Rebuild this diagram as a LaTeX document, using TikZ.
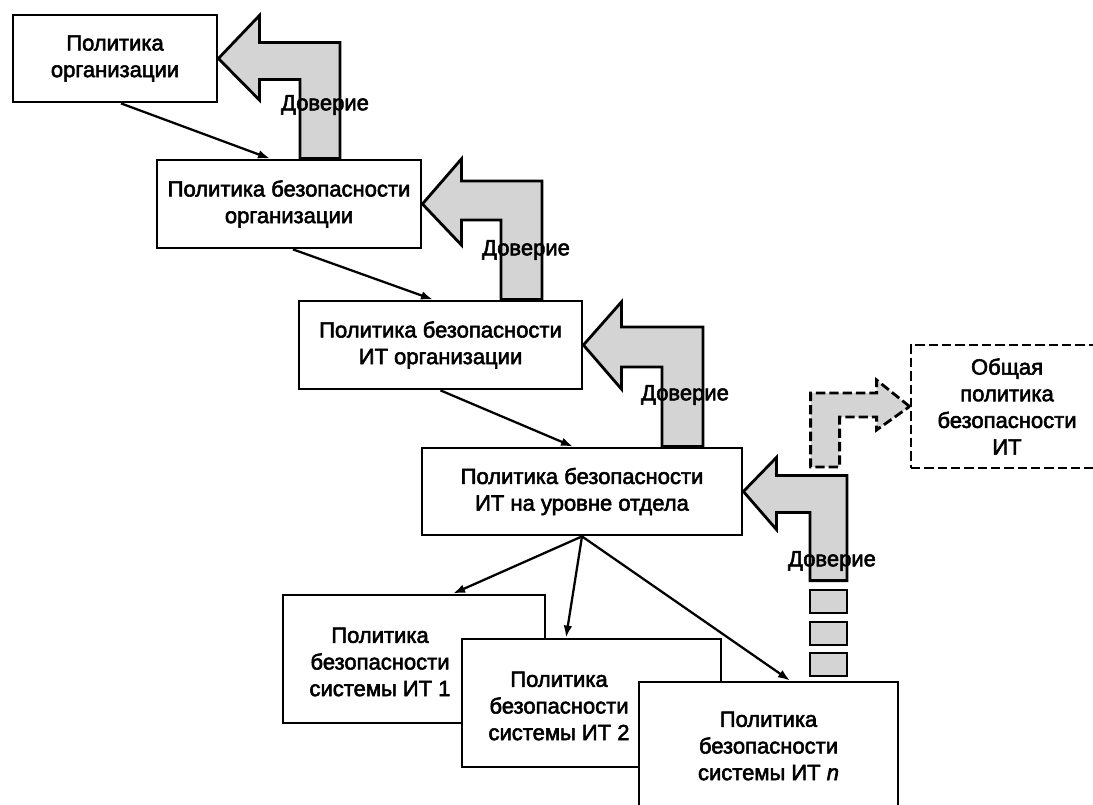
\documentclass[tikz,border=0pt]{standalone}
\usepackage{fontspec}
\setmainfont{Liberation Sans}
\newfontfamily\dfont{Liberation Sans}[FakeBold=2.5]
\usetikzlibrary{calc,arrows.meta}
\definecolor{trustgray}{RGB}{212,212,212}
\begin{document}
\begin{tikzpicture}[x=0.75pt,y=-0.75pt,
  box/.style={draw,line width=2.1pt,fill=white,align=center,inner sep=2pt,
    font=\dfont\fontsize{16.5}{20}\selectfont},
  txt/.style={align=center,inner sep=0pt,font=\dfont\fontsize{16.5}{20}\selectfont},
  dbox/.style={box,dash pattern=on 7pt off 3pt},
  conn/.style={line width=1.7pt,-{Latex[length=9pt,width=6.5pt]}},
  trust/.style={draw,line width=2.1pt,fill=trustgray,line join=miter},
  trustd/.style={trust,dash pattern=on 7pt off 3pt},
  lbl/.style={font=\dfont\fontsize{16.5}{20}\selectfont,inner sep=0pt}]
\clip (0,0) rectangle (1093,805);
\fill[white] (0,0) rectangle (1093,805);

% boxes
\node[box,minimum width=153pt,minimum height=65.25pt] (b1) at (115,58.5) {Политика\\организации};
\node[box,minimum width=198pt,minimum height=66pt] (b2) at (289,204) {Политика безопасности\\организации};
\node[box,minimum width=212.25pt,minimum height=66pt] (b3) at (440.5,345) {Политика безопасности\\ИТ организации};
\node[box,minimum width=240pt,minimum height=65.25pt] (b4) at (582,491.5) {Политика безопасности\\ИТ на уровне отдела};
\node[dbox,minimum width=144pt,minimum height=92.25pt] (bd) at (1007,406.5) {Общая\\политика\\безопасности\\ИТ};
\node[box,minimum width=196.5pt,minimum height=96pt] (b5) at (414,659) {};
\node[txt] (b5t) at ($(b5.center)+(-34,3)$) {Политика\\безопасности\\системы ИТ 1};
\node[box,minimum width=194.25pt,minimum height=96pt] (b6) at (591.5,703) {};
\node[txt] (b6t) at ($(b6.center)+(-32.5,3)$) {Политика\\безопасности\\системы ИТ 2};
\node[box,minimum width=194.25pt,minimum height=96pt] (b7) at (768.5,746) {Политика\\безопасности\\системы ИТ \textit{n}};

% connectors
\draw[conn] ($(b1.south)+(6,0)$) -- ($(b2.north)+(-19,0)$);
\draw[conn] ($(b2.south)+(4,0)$) -- ($(b3.north)+(-7.5,0)$);
\draw[conn] (b3.south) -- ($(b4.north)+(-9,0)$);
\draw[conn] (b4.south) -- ($(b5.north)+(39,0)$);
\draw[conn] (b4.south) -- ($(b6.north)+(-25.5,0)$);
\draw[conn] (b4.south) -- ($(b7.north)+(21.5,0)$);

% trust arrows
\draw[trust] (b1.east) -- ++(41,-43) -- ++(0,27) -| ($(b2.north)+(51,0)$)
  -- ($(b2.north)+(11,0)$) |- ($(b1.east)+(41,21)$) -- ++(0,20.5) -- cycle;
\draw[trust] (b2.east) -- ++(39,-45) -- ++(0,22) -| ($(b3.north)+(101.5,0)$)
  -- ($(b3.north)+(60.5,0)$) |- ($(b2.east)+(39,16)$) -- ++(0,25) -- cycle;
\draw[trust] (b3.east) -- ++(38,-43) -- ++(0,25) -| ($(b4.north)+(121,0)$)
  -- ($(b4.north)+(80,0)$) |- ($(b3.east)+(38,22)$) -- ++(0,22) -- cycle;
\draw[trust] (b4.east) -- ++(33,-34) -- ++(0,18) -| ($(b7.north)+(78.5,-100)$)
  -- ($(b7.north)+(41.5,-100)$) |- ($(b4.east)+(33,21)$) -- ++(0,17) -- cycle;
\draw[trust] (810,590) rectangle (847,613);
\draw[trust] (810,622) rectangle (847,645);
\draw[trust] (810,653) rectangle (847,676);
\draw[trustd] (bd.west) -- ++(-33,-26.5) -- ++(0,13) -- ++(-66,0) -- ++(0,74)
  -- ++(29,0) -- ++(0,-50) -- ++(37,0) -- ++(0,13) -- cycle;

% labels
\node[lbl] (t1) at (325,105) {Доверие};
\node[lbl] (t2) at (526,250) {Доверие};
\node[lbl] (t3) at (685,395) {Доверие};
\node[lbl] (t4) at (832,561) {Доверие};
\end{tikzpicture}
\end{document}
